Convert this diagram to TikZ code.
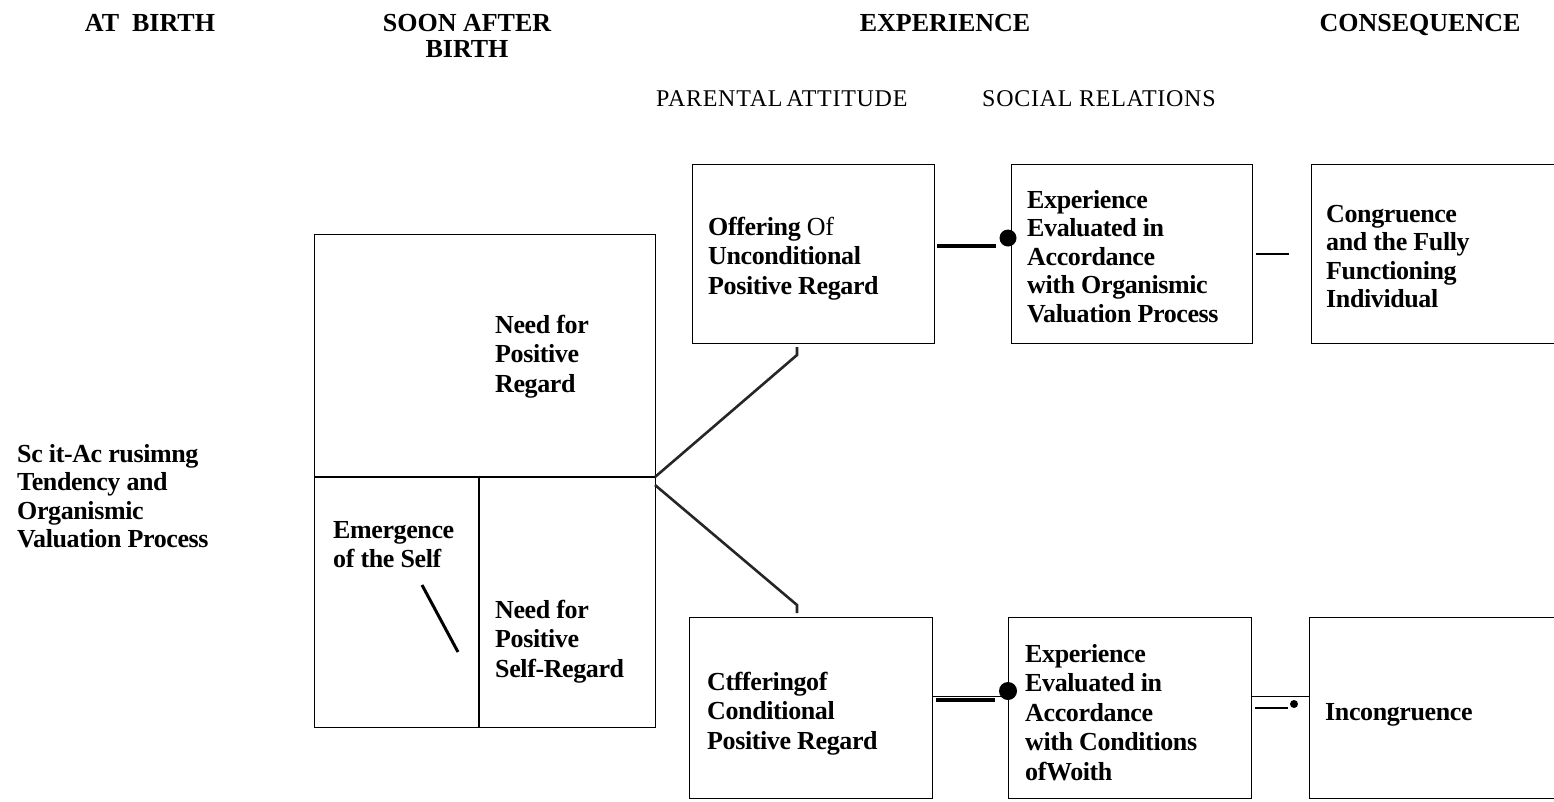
\documentclass[tikz,border=0pt]{standalone}
\usepackage{fontspec}
\setmainfont{Liberation Serif}
\newcommand\fl{\rule{0pt}{19pt}}
\begin{document}
\begin{tikzpicture}[x=1pt,y=-1pt,
  box/.style={draw,line width=1.3pt,inner sep=0pt},
  lbl/.style={anchor=north west,inner sep=0pt,align=left,
    font=\bfseries\fontsize{26}{29.5}\selectfont\addfontfeatures{LetterSpace=-1.5}},
  lbltight/.style={lbl,font=\bfseries\fontsize{26}{28.5}\selectfont\addfontfeatures{LetterSpace=-1.5}},
  head/.style={inner sep=0pt,anchor=base,font=\bfseries\fontsize{26}{28}\selectfont},
  sub/.style={inner sep=0pt,anchor=base west,font=\fontsize{24}{26}\selectfont\addfontfeatures{LetterSpace=3}},
  bar/.style={line width=3.5pt},
  shortdash/.style={line width=2pt},
  thinl/.style={line width=1pt},
  diag/.style={line width=2.6pt,black!85}]
\useasboundingbox (0,0) rectangle (1554,801);

% headings
\node[head] (h1) at (150,31) {AT\ \ BIRTH};
\node[head] (h2) at (467,31) {SOON AFTER};
\node[head] (h2b) at (467,57) {BIRTH};
\node[head] (h3) at (945,31) {EXPERIENCE};
\node[head] (h4) at (1420,31) {CONSEQUENCE};
\node[sub] (s1) at (656,106) {PARENTAL\,ATTITUDE};
\node[sub] (s2) at (982,106) {SOCIAL RELATIONS};

% left text
\node[lbltight] (at) at (17,443) {\fl Sc it-Ac rusimng\\Tendency and\\Organismic\\Valuation Process};

% big box
\node[box,anchor=north west,minimum width=341,minimum height=493] (self) at (314,234) {};
\coordinate (d1) at (314,477);
\coordinate (d2) at (655,477);
\coordinate (d3) at (479,477);
\coordinate (d4) at (479,727);
\draw[line width=1.3pt] (d1) -- (d2);
\draw[line width=1.3pt] (d3) -- (d4);
\node[lbl] (npr) at (495,314) {\fl Need for\\Positive\\Regard};
\node[lbl] (emg) at (333,519) {\fl Emergence\\of the Self};
\node[lbl] (npsr) at (495,599) {\fl Need for\\Positive\\Self-Regard};
\coordinate (sl1) at (422,585);
\coordinate (sl2) at (458,652);
\draw[line width=3pt] (sl1) -- (sl2);

% top row
\node[box,anchor=north west,minimum width=242,minimum height=179] (unc) at (692,164) {};
\node[lbl] at (708,216) {\fl Offering {\mdseries Of}\\Unconditional\\Positive Regard};
\node[box,anchor=north west,minimum width=241,minimum height=179] (expt) at (1011,164) {};
\node[lbltight] at (1027,189) {\fl Experience\\Evaluated in\\Accordance\\with Organismic\\Valuation Process};
\node[box,anchor=north west,minimum width=250,minimum height=179] (cong) at (1311,164) {};
\node[lbltight] at (1326,203) {\fl Congruence\\and the Fully\\Functioning\\Individual};

% bottom row
\node[box,anchor=north west,minimum width=243,minimum height=181] (cnd) at (689,617) {};
\node[lbl] at (707,671) {\fl Ctfferingof\\Conditional\\Positive Regard};
\node[box,anchor=north west,minimum width=243,minimum height=181] (expb) at (1008,617) {};
\node[lbl] at (1025,643) {\fl Experience\\Evaluated in\\Accordance\\with Conditions\\ofWoith};
\node[box,anchor=north west,minimum width=252,minimum height=181] (inc) at (1309,617) {};
\node[lbl] at (1325,701) {\fl Incongruence};

% diagonal connectors
\coordinate (v1) at (655,477);
\coordinate (v2) at (655,485);
\coordinate (u1) at (797,355);
\coordinate (u2) at (797,347);
\coordinate (w1) at (797,605);
\coordinate (w2) at (797,613);
\draw[diag] (v1) -- (u1) -- (u2);
\draw[diag] (v2) -- (w1) -- (w2);

% top connectors
\coordinate (a1) at (937,246);
\coordinate (a2) at (996,246);
\draw[bar] (a1) -- (a2);
\fill (1008,238) circle (8.5);
\coordinate (b1) at (1256,254);
\coordinate (b2) at (1289,254);
\draw[shortdash] (b1) -- (b2);

% bottom connectors
\coordinate (c0) at (0,696);
\draw[thinl] (cnd.east |- c0) -- (expb.west |- c0);
\coordinate (c1) at (936,700);
\coordinate (c2) at (995,700);
\draw[bar] (c1) -- (c2);
\fill (1008,691) circle (9);
\draw[thinl] (expb.east |- c0) -- (inc.west |- c0);
\coordinate (e1) at (1255,708);
\coordinate (e2) at (1288,708);
\draw[shortdash] (e1) -- (e2);
\fill (1294,704) circle (4);
\end{tikzpicture}
\end{document}
